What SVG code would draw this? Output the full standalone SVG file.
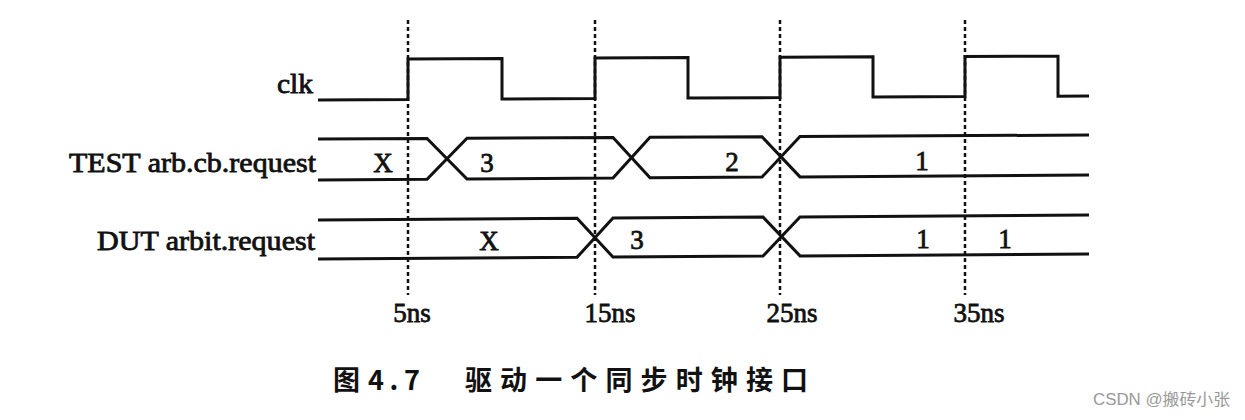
<svg xmlns="http://www.w3.org/2000/svg" width="1245" height="420" viewBox="0 0 1245 420">
<style>
.lbl{font-family:"Liberation Serif","Times New Roman",serif;font-size:27px;fill:#111;stroke:#111;stroke-width:0.8}
.sig{fill:none;stroke:#111;stroke-width:3;stroke-linejoin:miter}
.grid{fill:none;stroke:#111;stroke-width:2.5;stroke-dasharray:4 3}
.cap{font-family:"Noto Sans CJK SC","Noto Sans",sans-serif;font-size:27px;fill:#111;font-weight:bold}
.wm{font-family:"Liberation Sans","Noto Sans CJK SC",sans-serif;font-size:16px;fill:#999}
</style>
<rect width="1245" height="420" fill="#fff"/>
<g id="connectors">
<line class="grid" x1="408" y1="20" x2="408" y2="295"/>
<line class="grid" x1="595" y1="20" x2="595" y2="295"/>
<line class="grid" x1="780" y1="20" x2="780" y2="295"/>
<line class="grid" x1="965" y1="20" x2="965" y2="295"/>
</g>
<g id="clk">
<text class="lbl" x="313" y="93" text-anchor="end" textLength="36" lengthAdjust="spacingAndGlyphs">clk</text>
<path class="sig" d="M318,100 L408,99.5 L408,59 L502,58.6 L502,99 L595,98.6 L595,58 L688,57.6 L688,98 L780,97.6 L780,57.2 L873,56.8 L873,97.1 L965,96.6 L965,56.4 L1058,56.2 L1058,96.2 L1089,96"/>
</g>
<g id="test">
<text class="lbl" x="316" y="172" text-anchor="end" textLength="247" lengthAdjust="spacingAndGlyphs">TEST arb.cb.request</text>
<path class="sig" d="M318,139 L427,138.4 L467,179 L613,178.1 L650,137.3 L762,136.7 L800,176.9 L1089,175"/>
<path class="sig" d="M318,180 L427,179.3 L467,138.2 L613,137.5 L650,177.8 L762,177.1 L800,136.5 L1089,135"/>
<text class="lbl" x="383" y="172" text-anchor="middle">X</text>
<text class="lbl" x="487" y="172" text-anchor="middle">3</text>
<text class="lbl" x="732" y="171" text-anchor="middle">2</text>
<text class="lbl" x="922" y="170" text-anchor="middle">1</text>
</g>
<g id="dut">
<text class="lbl" x="315" y="250" text-anchor="end" textLength="218" lengthAdjust="spacingAndGlyphs">DUT arbit.request</text>
<path class="sig" d="M318,220 L577,218.3 L613,257.1 L763,256.1 L800,216.9 L1089,215"/>
<path class="sig" d="M318,259 L577,257.3 L613,218.1 L763,217.1 L800,255.9 L1089,254"/>
<text class="lbl" x="489" y="250" text-anchor="middle">X</text>
<text class="lbl" x="637" y="249" text-anchor="middle">3</text>
<text class="lbl" x="923" y="248" text-anchor="middle">1</text>
<text class="lbl" x="1005" y="248" text-anchor="middle">1</text>
</g>
<g id="times">
<text class="lbl" x="412" y="322" text-anchor="middle">5ns</text>
<text class="lbl" x="610" y="322" text-anchor="middle">15ns</text>
<text class="lbl" x="792" y="322" text-anchor="middle">25ns</text>
<text class="lbl" x="979" y="322" text-anchor="middle">35ns</text>
</g>
<g id="caption">
<text class="cap" x="333" y="390">图</text>
<text class="cap" x="368" y="390" textLength="52" lengthAdjust="spacing">4.7</text>
<text class="cap" x="465" y="390" textLength="343" lengthAdjust="spacing">驱动一个同步时钟接口</text>
</g>
<text class="wm" x="1093" y="405" textLength="137" lengthAdjust="spacingAndGlyphs">CSDN @搬砖小张</text>
</svg>
